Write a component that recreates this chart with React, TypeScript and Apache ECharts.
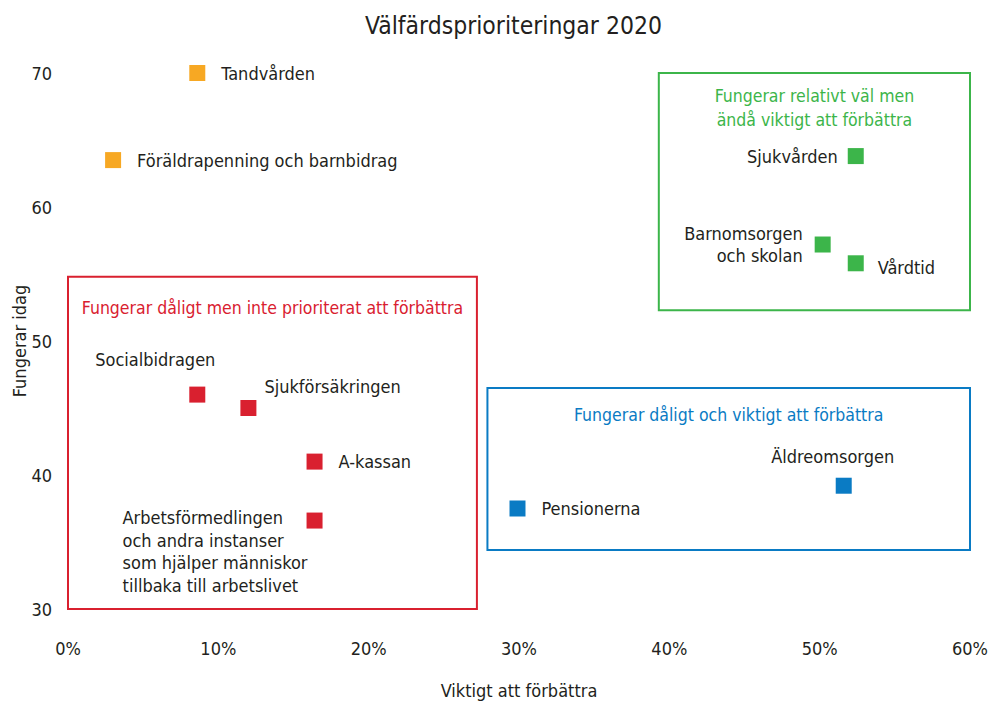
import React, { useEffect, useRef } from "react";
import * as echarts from "echarts";

const FONT = "'DejaVu Sans Condensed', 'Liberation Sans Narrow', 'Roboto', sans-serif";
const TEXT = "#231f20";

const chartTitle = "Välfärdsprioriteringar 2020";
const xAxisName = "Viktigt att förbättra";
const yAxisName = "Fungerar idag";

// [Viktigt att förbättra (%), Fungerar idag]
const orangeNames = ["Tandvården", "Föräldrapenning och barnbidrag"];
const orangeValues = [[8.6, 70.0], [3.0, 63.5]];

const redNames = ["Socialbidragen", "Sjukförsäkringen", "A-kassan", "Arbetsförmedlingen\noch andra instanser\nsom hjälper människor\ntillbaka till arbetslivet"];
const redValues = [[8.6, 46.0], [12.0, 45.0], [16.4, 41.0], [16.4, 36.6]];

const blueNames = ["Pensionerna", "Äldreomsorgen"];
const blueValues = [[29.9, 37.5], [51.6, 39.2]];

const greenNames = ["Sjukvården", "Barnomsorgen\noch skolan", "Vårdtid"];
const greenValues = [[52.4, 63.8], [50.2, 57.2], [52.4, 55.8]];

const redBoxTitle = "Fungerar dåligt men inte prioriterat att förbättra";
const redBox = [[0, 29.6], [27.2, 54.8]];
const blueBoxTitle = "Fungerar dåligt och viktigt att förbättra";
const blueBox = [[27.9, 34.4], [60, 46.5]];
const greenBoxTitle = "Fungerar relativt väl men\nändå viktigt att förbättra";
const greenBox = [[39.3, 52.3], [60, 70.2]];

const labelStyles: Record<string, any> = {
  "Tandvården": { position: "right", distance: 16 },
  "Föräldrapenning och barnbidrag": { position: "right", distance: 16 },
  "Socialbidragen": { position: "top", distance: 18, offset: [-42, 0] },
  "Sjukförsäkringen": { position: "right", distance: 8, offset: [0, -22] },
  "A-kassan": { position: "right", distance: 16 },
  "Pensionerna": { position: "right", distance: 16 },
  "Äldreomsorgen": { position: "top", distance: 12, offset: [-11, 0] },
  "Sjukvården": { position: "left", distance: 10 },
  "Barnomsorgen\noch skolan": { position: "left", distance: 12, lineHeight: 22 },
  "Vårdtid": { position: "right", distance: 14, offset: [0, 4] },
};
const arbLabel = { position: [-184, -6], align: "left", verticalAlign: "top", lineHeight: 22.5 };

function buildData(names: string[], values: number[][]) {
  return names.map((n, i) => ({
    name: n,
    value: values[i],
    label: { show: true, formatter: "{b}", ...(labelStyles[n] || arbLabel) },
  }));
}

function box(b: number[][], title: string, color: string, dist: number) {
  return {
    silent: true,
    itemStyle: { color: "rgba(0,0,0,0)", borderColor: color, borderWidth: 2, opacity: 1 },
    label: {
      show: true,
      position: "insideTop",
      distance: dist,
      color,
      fontSize: 17.5,
      fontFamily: FONT,
      lineHeight: 24,
    },
    data: [[
      { name: title, xAxis: b[0][0], yAxis: b[1][1] },
      { xAxis: b[1][0], yAxis: b[0][1] },
    ]],
  };
}

export default function App() {
  const ref = useRef<HTMLDivElement>(null);
  useEffect(() => {
    document.body.style.margin = "0";
    document.body.style.overflow = "hidden";
    const chart = echarts.init(ref.current!, null, { renderer: "svg" });
    const common = {
      type: "scatter",
      symbol: "rect",
      symbolSize: 16,
      clip: false,
      label: { color: TEXT, fontSize: 18, fontFamily: FONT },
    };
    chart.setOption({
      animation: false,
      backgroundColor: "#fff",
      textStyle: { fontFamily: FONT },
      title: {
        text: chartTitle,
        left: 360,
        top: 8,
        textStyle: { fontSize: 24.5, fontWeight: "normal", color: TEXT, fontFamily: FONT },
      },
      grid: { left: 68, right: 23, top: 73, bottom: 95, outerBoundsMode: "none", containLabel: false },
      xAxis: {
        type: "value",
        min: 0,
        max: 60,
        interval: 10,
        name: xAxisName,
        nameLocation: "middle",
        nameGap: 72,
        nameMoveOverlap: false,
        nameTextStyle: { fontSize: 18, color: TEXT, fontFamily: FONT },
        axisLine: { show: false },
        axisTick: { show: false },
        splitLine: { show: false },
        axisLabel: { formatter: "{value}%", fontSize: 18, color: TEXT, margin: 30, fontFamily: FONT },
      },
      yAxis: {
        type: "value",
        min: 30,
        max: 70,
        interval: 10,
        name: yAxisName,
        nameLocation: "middle",
        nameGap: 40,
        nameMoveOverlap: false,
        nameTextStyle: { fontSize: 18, color: TEXT, fontFamily: FONT },
        axisLine: { show: false },
        axisTick: { show: false },
        splitLine: { show: false },
        axisLabel: { fontSize: 18, color: TEXT, margin: 16, fontFamily: FONT },
      },
      series: [
        { ...common, name: "orange", itemStyle: { color: "#f7a823", opacity: 1 }, data: buildData(orangeNames, orangeValues) },
        { ...common, name: "red", itemStyle: { color: "#d9202f", opacity: 1 }, data: buildData(redNames, redValues), markArea: box(redBox, redBoxTitle, "#d9202f", 20) },
        { ...common, name: "blue", itemStyle: { color: "#0a7bc4", opacity: 1 }, data: buildData(blueNames, blueValues), markArea: box(blueBox, blueBoxTitle, "#0a7bc4", 16) },
        { ...common, name: "green", itemStyle: { color: "#3cb54a", opacity: 1 }, data: buildData(greenNames, greenValues), markArea: box(greenBox, greenBoxTitle, "#3cb54a", 12) },
      ],
    });
    return () => chart.dispose();
  }, []);
  return <div ref={ref} style={{ position: "fixed", left: 0, top: 0, width: 993, height: 704 }} />;
}
